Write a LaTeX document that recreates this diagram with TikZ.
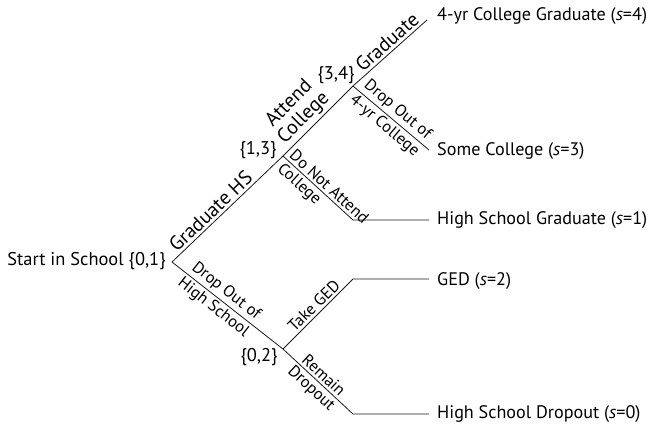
\documentclass[tikz,border=0pt]{standalone}
\usepackage{fontspec}
\setmainfont{PT Sans}
\begin{document}
\begin{tikzpicture}[x=1bp,y=-1bp,
  edge/.style={draw=black!90, line width=0.8bp},
  big/.style={font=\fontsize{20}{20.5}\selectfont, inner sep=2.5bp, sloped},
  small/.style={font=\fontsize{16.5}{16.5}\selectfont, inner sep=2.5bp, sloped},
  txt/.style={font=\fontsize{18.5}{19}\selectfont, inner sep=0pt},
  outtxt/.style={font=\fontsize{18.2}{19}\selectfont, inner sep=0pt, anchor=west}]
\useasboundingbox (0,0) rectangle (651,425);
% junctions
\coordinate (S) at (172,262);
\coordinate (A) at (283,156);
\coordinate (B) at (353,86);
\coordinate (C) at (283,349);
\coordinate (E1) at (427,20);
\coordinate (E2) at (429,150);
\coordinate (D1) at (353,220);
\coordinate (E3) at (429,220);
\coordinate (D2) at (353,279);
\coordinate (E4) at (429,279);
\coordinate (D3) at (353,414);
\coordinate (E5) at (429,414);
% state labels
\node[txt] (start) at (86.5,261) {Start in School \{0,1\}};
\node[txt] (n13) at (258,150) {\{1,3\}};
\node[txt] (n34) at (336,75) {\{3,4\}};
\node[txt] (n02) at (259,357) {\{0,2\}};
% outcomes
\node[outtxt] (o4) at (437,16) {4-yr College Graduate (\textit{s}=4)};
\node[outtxt] (o3) at (437,151) {Some College (\textit{s}=3)};
\node[outtxt] (o1) at (437,220) {High School Graduate (\textit{s}=1)};
\node[outtxt] (o2) at (437,281) {GED (\textit{s}=2)};
\node[outtxt] (o0) at (437,414) {High School Dropout (\textit{s}=0)};
% branches
\draw[edge] (S) -- node[big, pos=.41, above] (lgh) {Graduate HS} (A);
\draw[edge] (A) -- node[big, pos=.42, above, align=center] (lac) {Attend\\College} (B);
\draw[edge] (B) -- node[big, pos=.55, above] (lgr) {Graduate} (E1);
\draw[edge] (B) -- node[small, pos=.5, above] (ldo1) {Drop Out of}
                   node[small, pos=.5, below] (ldo2) {4-yr College} (E2);
\draw[edge] (A) -- node[small, pos=.02, above, anchor=south west] (lna1) {Do Not Attend}
                   node[small, pos=.02, below, anchor=north west] (lna2) {College} (D1) -- (E3);
\draw[edge] (S) -- node[small, pos=.43, above] (lhs1) {Drop Out of}
                   node[small, pos=.43, below] (lhs2) {High School} (C);
\draw[edge] (C) -- node[small, pos=.53, above] (lged) {Take GED} (D2) -- (E4);
\draw[edge] (C) -- node[small, pos=.5, above] (lrd1) {Remain}
                   node[small, pos=.5, below] (lrd2) {Dropout} (D3) -- (E5);
\end{tikzpicture}
\end{document}
